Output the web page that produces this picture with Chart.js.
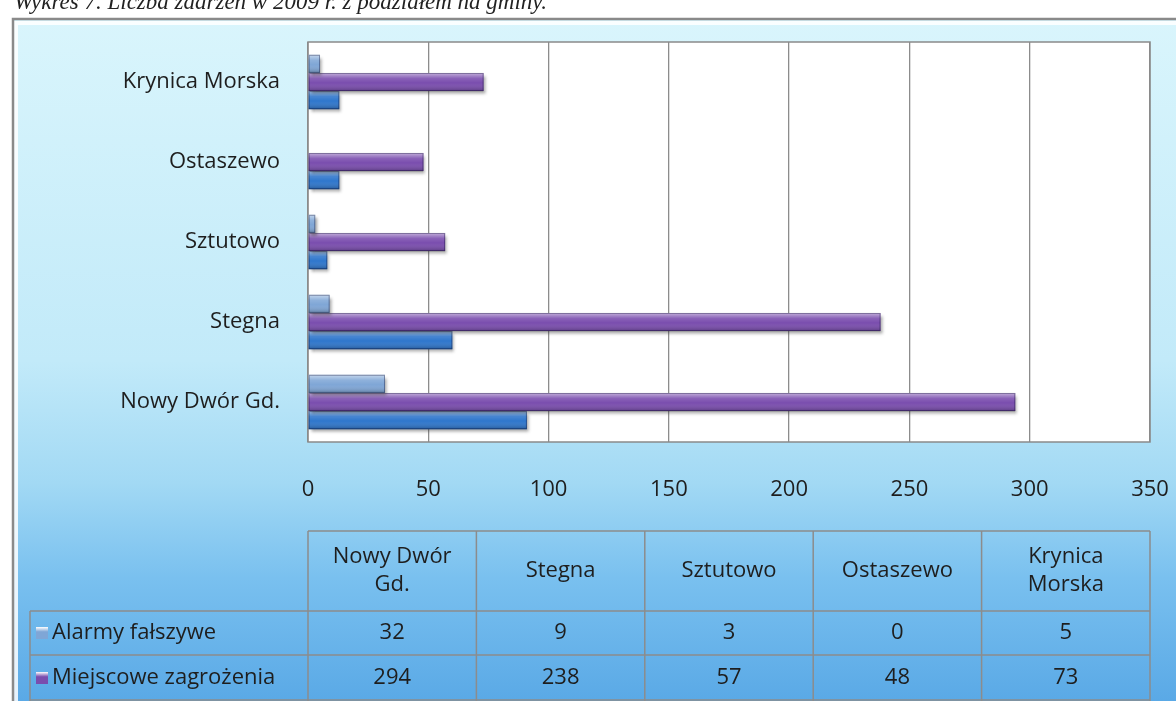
<!DOCTYPE html>
<html>
<head>
<meta charset="utf-8">
<script src="https://cdn.jsdelivr.net/npm/chart.js@4.4.1/dist/chart.umd.min.js"></script>
<style>
html,body{margin:0;padding:0;background:#fff;}
#wrap{position:relative;width:1176px;height:701px;}
</style>
</head>
<body>
<div id="wrap"><canvas id="c" width="1176" height="701"></canvas></div>
<script>
// ---- data ----
const categories = ['Nowy Dwór Gd.', 'Stegna', 'Sztutowo', 'Ostaszewo', 'Krynica Morska'];
const headerLines = [['Nowy Dwór', 'Gd.'], ['Stegna'], ['Sztutowo'], ['Ostaszewo'], ['Krynica', 'Morska']];
const alarmyFalszywe = [32, 9, 3, 0, 5];
const miejscoweZagrozenia = [294, 238, 57, 48, 73];
const pozary = [91, 60, 8, 13, 13];
const seriesNames = ['Alarmy fałszywe', 'Miejscowe zagrożenia', 'Pożary'];
const xTicks = [0, 50, 100, 150, 200, 250, 300, 350];
const caption = 'Wykres 7. Liczba zdarzeń w 2009 r. z podziałem na gminy.';

const FONT = '"Open Sans", Lato, sans-serif';
const FSIZE = 22;
const colors = ['#7fa6d6', '#7a4dae', '#2e76cc'];
const tableRows = [alarmyFalszywe, miejscoweZagrozenia];

const bgPlugin = {
  id: 'bg',
  beforeDraw(chart) {
    const ctx = chart.ctx, W = chart.width, H = chart.height, ca = chart.chartArea;
    ctx.save();
    ctx.fillStyle = '#fff';
    ctx.fillRect(0, 0, W, H);
    // clipped caption
    ctx.fillStyle = '#222';
    ctx.font = 'italic 23px "Liberation Serif", "DejaVu Serif", serif';
    ctx.textBaseline = 'alphabetic';
    ctx.textAlign = 'left';
    ctx.fillText(caption, 14, 9);
    // frame
    const g = ctx.createLinearGradient(0, 20, 0, H);
    g.addColorStop(0, '#d9f5fc');
    g.addColorStop(0.5, '#c2eaf9');
    g.addColorStop(0.68, '#a2d9f4');
    g.addColorStop(0.82, '#79c0ef');
    g.addColorStop(1, '#5aa9e6');
    ctx.fillStyle = g;
    ctx.fillRect(12, 18, W, H);
    // bevel highlight
    ctx.strokeStyle = 'rgba(255,255,255,0.85)';
    ctx.lineWidth = 4;
    ctx.beginPath();
    ctx.moveTo(16, H); ctx.lineTo(16, 23); ctx.lineTo(W, 23);
    ctx.stroke();
    ctx.strokeStyle = '#8a8a8a';
    ctx.lineWidth = 2.5;
    ctx.strokeRect(13, 19, W + 10, H + 10);
    // plot area
    ctx.fillStyle = '#ffffff';
    ctx.fillRect(ca.left, ca.top, ca.right - ca.left, ca.bottom - ca.top);
    ctx.restore();
  },
  beforeDatasetsDraw(chart) {
    const ctx = chart.ctx, ca = chart.chartArea;
    ctx.save();
    ctx.strokeStyle = '#8a8a8a';
    ctx.lineWidth = 1.5;
    ctx.strokeRect(ca.left, ca.top, ca.right - ca.left, ca.bottom - ca.top);
    ctx.restore();
  },
  beforeDatasetDraw(chart) {
    const ctx = chart.ctx;
    ctx.save();
    ctx.shadowColor = 'rgba(60,60,60,0.45)';
    ctx.shadowOffsetX = 2;
    ctx.shadowOffsetY = 3;
    ctx.shadowBlur = 3;
  },
  afterDatasetDraw(chart, args) {
    const ctx = chart.ctx;
    ctx.restore();
    const meta = args.meta;
    ctx.save();
    meta.data.forEach(el => {
      const p = el.getProps(['x', 'y', 'base', 'height'], true);
      const l = Math.min(p.x, p.base), r = Math.max(p.x, p.base);
      const t = p.y - p.height / 2, b = p.y + p.height / 2;
      if (r - l < 0.5) return;
      const g = ctx.createLinearGradient(0, t, 0, b);
      g.addColorStop(0, 'rgba(255,255,255,0.55)');
      g.addColorStop(0.3, 'rgba(255,255,255,0.12)');
      g.addColorStop(0.55, 'rgba(255,255,255,0)');
      g.addColorStop(1, 'rgba(0,0,0,0.25)');
      ctx.fillStyle = g;
      ctx.fillRect(l, t, r - l, b - t);
      ctx.strokeStyle = 'rgba(0,0,40,0.35)';
      ctx.lineWidth = 1;
      ctx.strokeRect(l + 0.5, t + 0.5, r - l - 1, b - t - 1);
    });
    ctx.restore();
  },
  afterDraw(chart) {
    const ctx = chart.ctx, ca = chart.chartArea;
    const n = categories.length;
    const colW = (ca.right - ca.left) / n;
    const yHead = 531, yRow1 = 611, yRow2 = 655, yEnd = 701;
    const labelLeft = 30;
    ctx.save();
    ctx.strokeStyle = '#8c8c8c';
    ctx.lineWidth = 1.5;
    ctx.beginPath();
    ctx.moveTo(ca.left, yHead); ctx.lineTo(ca.right, yHead);
    ctx.moveTo(labelLeft, yRow1); ctx.lineTo(ca.right, yRow1);
    ctx.moveTo(labelLeft, yRow2); ctx.lineTo(ca.right, yRow2);
    ctx.moveTo(labelLeft, yEnd - 1); ctx.lineTo(ca.right, yEnd - 1);
    ctx.moveTo(labelLeft, yRow1); ctx.lineTo(labelLeft, yEnd);
    for (let i = 0; i <= n; i++) {
      const x = ca.left + colW * i;
      ctx.moveTo(x, yHead); ctx.lineTo(x, yEnd);
    }
    ctx.stroke();

    ctx.fillStyle = '#1e1e1e';
    ctx.font = FSIZE + 'px ' + FONT;
    ctx.textAlign = 'center';
    ctx.textBaseline = 'middle';
    headerLines.forEach((lines, i) => {
      const cx = ca.left + colW * (i + 0.5);
      const cy = (yHead + yRow1) / 2;
      const lh = 28;
      lines.forEach((s, k) => {
        ctx.fillText(s, cx, cy + (k - (lines.length - 1) / 2) * lh);
      });
    });
    const rowYs = [(yRow1 + yRow2) / 2, (yRow2 + yEnd) / 2];
    tableRows.forEach((row, r) => {
      row.forEach((v, i) => {
        ctx.fillText(String(v), ca.left + colW * (i + 0.5), rowYs[r]);
      });
      const kx = 36, ky = rowYs[r] - 6;
      const g = ctx.createLinearGradient(0, ky, 0, ky + 12);
      g.addColorStop(0, '#ffffff');
      g.addColorStop(0.4, colors[r]);
      g.addColorStop(1, colors[r]);
      ctx.fillStyle = g;
      ctx.fillRect(kx, ky, 12, 12);
      ctx.fillStyle = '#1e1e1e';
      ctx.textAlign = 'left';
      ctx.fillText(seriesNames[r], 52, rowYs[r]);
      ctx.textAlign = 'center';
    });
    ctx.restore();
  }
};

new Chart(document.getElementById('c'), {
  type: 'bar',
  data: {
    labels: categories,
    datasets: [
      { label: seriesNames[0], data: alarmyFalszywe, backgroundColor: colors[0] },
      { label: seriesNames[1], data: miejscoweZagrozenia, backgroundColor: colors[1] },
      { label: seriesNames[2], data: pozary, backgroundColor: colors[2] }
    ]
  },
  options: {
    indexAxis: 'y',
    responsive: false,
    animation: false,
    devicePixelRatio: 1,
    layout: { padding: { top: 42, right: 26, left: 0, bottom: 0 } },
    datasets: { bar: { barPercentage: 1, categoryPercentage: 0.68, borderWidth: 0 } },
    plugins: { legend: { display: false }, tooltip: { enabled: false } },
    scales: {
      x: {
        min: 0, max: 350,
        afterBuildTicks(scale) { scale.ticks = xTicks.map(v => ({ value: v })); },
        afterFit(scale) { scale.height = 259; scale.paddingLeft = 0; scale.paddingRight = 0; },
        grid: { color: '#8c8c8c', lineWidth: 1.3, drawTicks: false },
        border: { display: false },
        ticks: { padding: 35, color: '#1e1e1e', font: { size: FSIZE, family: FONT } }
      },
      y: {
        reverse: true,
        afterFit(scale) { scale.width = 308; scale.paddingTop = 0; scale.paddingBottom = 0; },
        grid: { display: false, drawTicks: false },
        border: { display: false },
        ticks: { padding: 28, color: '#1e1e1e', font: { size: FSIZE, family: FONT } }
      }
    }
  },
  plugins: [bgPlugin]
});
</script>
</body>
</html>
